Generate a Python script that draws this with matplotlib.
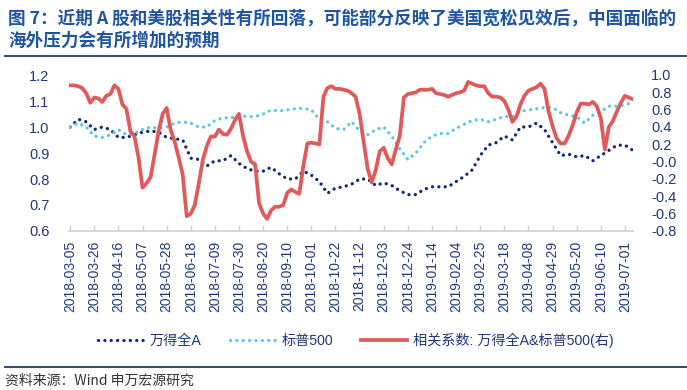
import matplotlib
matplotlib.use("Agg")
import matplotlib.pyplot as plt
import matplotlib.dates as mdates
import numpy as np
import pandas as pd

plt.rcParams['font.family'] = ['Liberation Sans', 'Noto Sans CJK SC', 'DejaVu Sans']

title_lines = ["图 7：近期 A 股和美股相关性有所回落，可能部分反映了美国宽松见效后，中国面临的",
               "海外压力会有所增加的预期"]
source_text = "资料来源：Wind 申万宏源研究"
series_names = ["万得全A", "标普500", "相关系数: 万得全A&标普500(右)"]

start_date = "2018-03-05"
# weekly index values
wind_a = [1.00, 1.03, 1.02, 0.99, 1.00, 0.99, 0.96, 0.96, 0.97, 0.98,
          0.985, 0.98, 0.96, 0.955, 0.95, 0.88, 0.875, 0.85, 0.87, 0.87,
          0.89, 0.86, 0.84, 0.83, 0.83, 0.845, 0.82, 0.80, 0.80, 0.83,
          0.815, 0.79, 0.745, 0.765, 0.77, 0.78, 0.80, 0.80, 0.775, 0.785,
          0.775, 0.755, 0.74, 0.74, 0.76, 0.77, 0.77, 0.77, 0.79, 0.81,
          0.835, 0.89, 0.93, 0.94, 0.965, 0.95, 1.00, 1.00, 1.015, 0.99,
          0.94, 0.89, 0.895, 0.885, 0.89, 0.87, 0.89, 0.91, 0.93, 0.93,
          0.91]
sp500 = [1.00, 1.015, 1.00, 0.965, 0.96, 0.97, 0.99, 0.97, 0.975, 0.99,
         1.00, 0.995, 1.00, 1.015, 1.02, 1.015, 1.00, 1.00, 1.025, 1.035,
         1.035, 1.045, 1.04, 1.04, 1.05, 1.065, 1.062, 1.066, 1.07, 1.072,
         1.066, 1.03, 1.02, 0.995, 0.99, 1.02, 0.985, 0.97, 0.99, 1.00,
         0.965, 0.915, 0.875, 0.90, 0.94, 0.965, 0.975, 0.975, 0.995, 1.01,
         1.025, 1.03, 1.02, 1.03, 1.04, 1.04, 1.06, 1.066, 1.07, 1.075,
         1.075, 1.055, 1.045, 1.04, 1.015, 1.045, 1.06, 1.08, 1.08, 1.085,
         1.095]
# half-weekly correlation values (right axis)
corr = [0.88, 0.88, 0.87, 0.85, 0.79, 0.68, 0.74, 0.73, 0.69, 0.76,
        0.78, 0.88, 0.84, 0.66, 0.61, 0.35, 0.29, 0.05, -0.30, -0.25,
        -0.18, 0.08, 0.35, 0.55, 0.62, 0.37, 0.23, 0.05, -0.15, -0.63,
        -0.60, -0.50, -0.25, 0.02, 0.18, 0.29, 0.29, 0.37, 0.32, 0.31,
        0.38, 0.48, 0.55, 0.30, 0.12, 0.00, -0.03, -0.48, -0.60, -0.66,
        -0.56, -0.52, -0.52, -0.50, -0.36, -0.32, -0.35, -0.37, -0.05, 0.21,
        0.22, 0.21, 0.20, 0.75, 0.85, 0.87, 0.84, 0.84, 0.83, 0.82,
        0.79, 0.75, 0.55, 0.23, -0.08, -0.24, -0.10, 0.12, 0.16, 0.04,
        -0.03, 0.14, 0.30, 0.74, 0.78, 0.79, 0.80, 0.83, 0.83, 0.83,
        0.84, 0.79, 0.78, 0.77, 0.75, 0.77, 0.79, 0.80, 0.82, 0.92,
        0.90, 0.88, 0.87, 0.87, 0.79, 0.75, 0.75, 0.74, 0.70, 0.60,
        0.46, 0.52, 0.66, 0.76, 0.82, 0.84, 0.86, 0.90, 0.84, 0.58,
        0.41, 0.27, 0.21, 0.21, 0.30, 0.42, 0.57, 0.67, 0.67, 0.66,
        0.69, 0.64, 0.50, 0.14, 0.40, 0.47, 0.58, 0.68, 0.76, 0.74,
        0.72]

week_dates = pd.date_range(start_date, periods=len(wind_a), freq="7D")
corr_dates = pd.date_range(start_date, periods=len(corr), freq="84h")
tick_dates = pd.date_range(start_date, "2019-07-01", freq="21D")

navy = "#0F2A78"
cyan = "#5CC8E6"
red = "#E05A5A"
text_c = "#1F3A7A"
title_c = "#1F55A0"
rule_c = "#1F3864"

fig = plt.figure(figsize=(6.87, 3.90), dpi=100)
ax = fig.add_axes([69/687, 1-231/390, (633-69)/687, (231-75)/390])
ax2 = ax.twinx()

l1, = ax.plot(week_dates, wind_a, color=navy, lw=2.4,
              linestyle=(0, (0.01, 1.9)), dash_capstyle="round")
l2, = ax.plot(week_dates, sp500, color=cyan, lw=2.4,
              linestyle=(0, (0.01, 1.9)), dash_capstyle="round")
l3, = ax2.plot(corr_dates, corr, color=red, lw=2.7, solid_joinstyle="round")

ax.set_ylim(0.6, 1.2)
ax.set_yticks(np.arange(0.6, 1.21, 0.1))
ax.set_yticklabels([f"{v:.1f}" for v in np.arange(0.6, 1.21, 0.1)])
ax2.set_ylim(-0.8, 1.0)
ax2.set_yticks(np.arange(-0.8, 1.01, 0.2))
ax2.set_yticklabels([f"{v:.1f}" for v in np.arange(-0.8, 1.01, 0.2)])
ax.set_xlim(week_dates[0] - pd.Timedelta(days=1), week_dates[-1])
ax.set_xticks(tick_dates)
ax.xaxis.set_major_formatter(mdates.DateFormatter("%Y-%m-%d"))

for a in (ax, ax2):
    for s in ("left", "right", "top"):
        a.spines[s].set_visible(False)
    a.spines["bottom"].set_color("#D0D0D0")
    a.spines["bottom"].set_linewidth(1.2)
ax2.spines["bottom"].set_visible(False)

ax.tick_params(axis="x", direction="in", length=4, color="#D0D0D0", width=1,
               labelsize=10, labelcolor=text_c, labelrotation=90, pad=7)
ax.tick_params(axis="y", length=0, labelsize=10.5, labelcolor=text_c, pad=14)
ax2.tick_params(axis="y", length=0, labelsize=10.5, labelcolor=text_c, pad=13)

fig.legend([l1, l2, l3], series_names, loc="center",
           bbox_to_anchor=(0.518, 1-340/390), ncol=3, frameon=False,
           fontsize=10.2, labelcolor=text_c, handlelength=3.2,
           handletextpad=0.45, columnspacing=2.0)

fig.text(8/687, 1-18/390, title_lines[0], fontsize=12.7, fontweight="bold",
         color=title_c, va="center", ha="left",
         family=["Noto Sans CJK SC", "DejaVu Sans"])
fig.text(8/687, 1-41/390, title_lines[1], fontsize=12.7, fontweight="bold",
         color=title_c, va="center", ha="left",
         family=["Noto Sans CJK SC", "DejaVu Sans"])
fig.add_artist(plt.Line2D([5/687, 1], [1-56/390, 1-56/390], color=rule_c, lw=1.3,
                          transform=fig.transFigure))
fig.add_artist(plt.Line2D([5/687, 1], [1-367/390, 1-367/390], color=rule_c, lw=1.3,
                          transform=fig.transFigure))
fig.text(5/687, 1-381/390, source_text, fontsize=10, color="#333333",
         va="center", ha="left", family=["Noto Sans CJK SC", "DejaVu Sans"])

fig.savefig("out.png", dpi=100)
